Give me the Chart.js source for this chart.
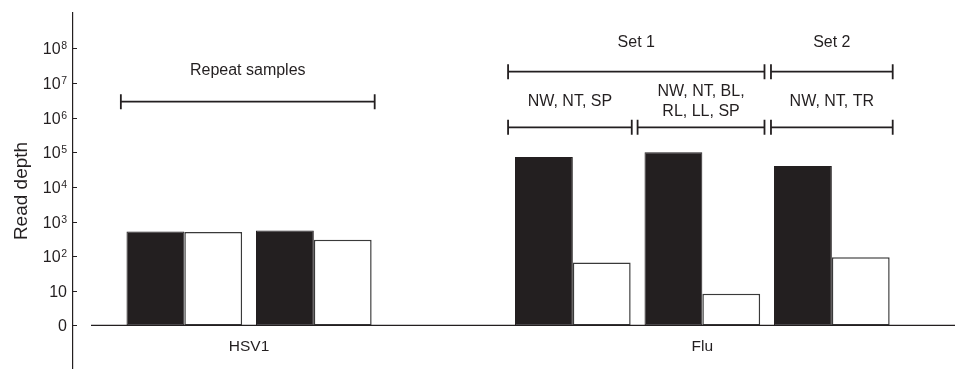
<!DOCTYPE html>
<html>
<head>
<meta charset="utf-8">
<script src="https://cdn.jsdelivr.net/npm/chart.js@4.4.0/dist/chart.umd.min.js"></script>
<style>
  html, body { margin: 0; padding: 0; background: #fff; }
  #wrap { width: 957px; height: 371px; }
</style>
</head>
<body>
<div id="wrap"><canvas id="readDepthChart"></canvas></div>
<script>
// sample slots along x (slot 3 is the empty one between HSV1 and Flu)
const slots = [1, 2, 3, 4, 5, 6];
// read depth per slot, 1 is drawn at the "0" line of the log axis
const blackValues = [515, 550, 1, 73000, 100000, 40000];
const whiteValues = [500, 300, 1, 66, 8.2, 93];

// y axis ticks: value, base text, exponent text
const yTicks = [1, 10, 1e2, 1e3, 1e4, 1e5, 1e6, 1e7, 1e8];
const yTickBase = ['0', '10', '10', '10', '10', '10', '10', '10', '10'];
const yTickExp = ['', '', '2', '3', '4', '5', '6', '7', '8'];

// group names under the bars
const groupLabels = ['HSV1', 'Flu'];
const groupPos = [1.5, 5];

// brackets over the bars (x in slot units)
const bracketText = [['Repeat samples'], ['Set 1'], ['Set 2'], ['NW, NT, SP'], ['NW, NT, BL,', 'RL, LL, SP'], ['NW, NT, TR']];
const bracketFrom = [0.51, 3.5, 5.53, 3.5, 4.5, 5.53];
const bracketTo = [2.47, 5.48, 6.47, 4.455, 5.48, 6.47];
const bracketRow = [1, 0, 0, 2, 2, 2];

const ink = '#231f20';
const font = '"Liberation Sans", Arial, Helvetica, sans-serif';
// pixel rows of the brackets, and how far the text sits above them
const rowY = [71.7, 101.7, 127.3];
const rowTextUp = [29, 31, 25.6];

const extrasPlugin = {
    id: 'extras',
    afterDatasetsDraw(chart) {
        const ctx = chart.ctx;
        const x = chart.scales.x;
        const y = chart.scales.y;
        const area = chart.chartArea;
        ctx.save();
        ctx.strokeStyle = ink;
        ctx.fillStyle = ink;

        // zero line
        const y0 = y.getPixelForValue(1);
        ctx.lineWidth = 1.3;
        ctx.beginPath();
        ctx.moveTo(91, y0);
        ctx.lineTo(area.right, y0);
        ctx.stroke();

        // ticks pointing into the plot + labels
        ctx.lineWidth = 1;
        ctx.textBaseline = 'alphabetic';
        yTicks.forEach((v, i) => {
            const py = Math.round(y.getPixelForValue(v)) + 0.5;
            ctx.beginPath();
            ctx.moveTo(area.left, py);
            ctx.lineTo(area.left + 4, py);
            ctx.stroke();

            let right = area.left - 6;
            ctx.textAlign = 'right';
            if (yTickExp[i]) {
                ctx.font = '10.5px ' + font;
                ctx.fillText(yTickExp[i], right, py + 0.5);
                right -= ctx.measureText(yTickExp[i]).width + 0.5;
            }
            ctx.font = '16px ' + font;
            ctx.fillText(yTickBase[i], right, py + 5.8);
        });

        // axis title
        ctx.save();
        ctx.translate(26.5, 191);
        ctx.rotate(-Math.PI / 2);
        ctx.font = '19px ' + font;
        ctx.textAlign = 'center';
        ctx.textBaseline = 'alphabetic';
        ctx.fillText('Read depth', 0, 0);
        ctx.restore();

        // group labels
        ctx.font = '15.5px ' + font;
        ctx.textAlign = 'center';
        ctx.textBaseline = 'middle';
        groupLabels.forEach((g, i) => {
            ctx.fillText(g, x.getPixelForValue(groupPos[i]), 347);
        });

        // brackets
        ctx.font = '16px ' + font;
        bracketText.forEach((lines, i) => {
            const x1 = x.getPixelForValue(bracketFrom[i]);
            const x2 = x.getPixelForValue(bracketTo[i]);
            const by = rowY[bracketRow[i]];
            ctx.lineWidth = 1.8;
            ctx.beginPath();
            ctx.moveTo(x1, by);
            ctx.lineTo(x2, by);
            ctx.moveTo(x1, by - 7.5);
            ctx.lineTo(x1, by + 7.5);
            ctx.moveTo(x2, by - 7.5);
            ctx.lineTo(x2, by + 7.5);
            ctx.stroke();

            const cx = (x1 + x2) / 2;
            const cy = by - rowTextUp[bracketRow[i]];
            lines.forEach((t, j) => {
                ctx.fillText(t, cx, cy + (j - (lines.length - 1) / 2) * 20);
            });
        });

        ctx.restore();
    }
};

const ctx = document.getElementById('readDepthChart').getContext('2d');
const myChart = new Chart(ctx, {
    type: 'bar',
    data: {
        datasets: [
            {
                label: 'black',
                data: slots.map((s, i) => ({x: s, y: blackValues[i]})),
                backgroundColor: ink,
                borderColor: ink,
                borderWidth: 1,
                borderSkipped: false
            },
            {
                label: 'white',
                data: slots.map((s, i) => ({x: s, y: whiteValues[i]})),
                backgroundColor: '#ffffff',
                borderColor: '#3a3a3a',
                borderWidth: 1.5,
                borderSkipped: false
            }
        ]
    },
    options: {
        responsive: true,
        maintainAspectRatio: false,
        animation: false,
        layout: { padding: { top: 13, bottom: 3, right: 2, left: 0 } },
        plugins: {
            legend: { display: false },
            tooltip: { enabled: false }
        },
        datasets: {
            bar: { categoryPercentage: 0.893, barPercentage: 1, base: 1 }
        },
        scales: {
            x: {
                type: 'linear',
                offset: false,
                min: 0.1405,
                max: 6.951,
                display: false,
                // one tick per slot so the bar width follows the slot spacing
                afterBuildTicks: (scale) => {
                    scale.ticks = slots.map(v => ({value: v}));
                }
            },
            y: {
                type: 'logarithmic',
                min: 0.059,
                max: 1.05e9,
                grid: { display: false },
                border: { display: true, color: ink, width: 1.2 },
                ticks: { display: false },
                afterBuildTicks: (scale) => {
                    scale.ticks = yTicks.map(v => ({value: v}));
                },
                afterFit: (scale) => {
                    scale.width = 73;
                }
            }
        }
    },
    plugins: [extrasPlugin]
});
</script>
</body>
</html>
